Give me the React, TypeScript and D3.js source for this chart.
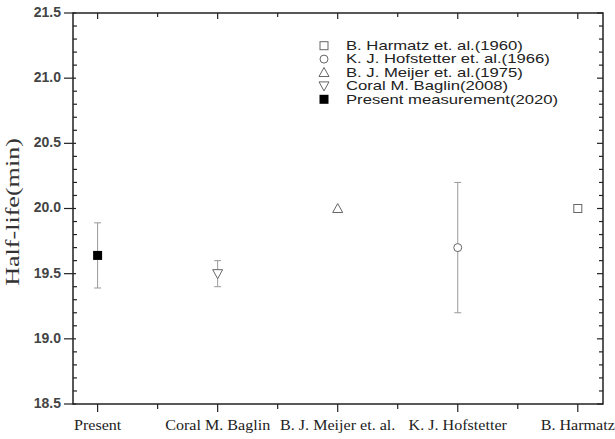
import React from "react";
import * as d3 from "d3";

const categories = ["Present", "Coral M. Baglin", "B. J. Meijer et. al.", "K. J. Hofstetter", "B. Harmatz"];
const values = [19.64, 19.5, 20.0, 19.7, 20.0];
const errors = [0.25, 0.1, 0, 0.5, 0];
const symbols = ["squareFilled", "triangleDown", "triangleUp", "circle", "square"];
const legendLabels = [
  "B. Harmatz et. al.(1960)",
  "K. J. Hofstetter et. al.(1966)",
  "B. J. Meijer et. al.(1975)",
  "Coral M. Baglin(2008)",
  "Present measurement(2020)",
];
const legendSymbols = ["square", "circle", "triangleUp", "triangleDown", "squareFilled"];
const yTickLabels = ["18.5", "19.0", "19.5", "20.0", "20.5", "21.0", "21.5"];

const W = 615;
const H = 439;
const left = 73, right = 603, top = 13, bottom = 404;

function Marker({ type, x, y }: { type: string; x: number; y: number }) {
  const stroke = "#666";
  const sw = 1;
  if (type === "squareFilled")
    return <rect x={x - 4.5} y={y - 4.5} width={9} height={9} fill="#000" />;
  if (type === "square")
    return <rect x={x - 4} y={y - 4} width={8} height={8} fill="#fff" stroke={stroke} strokeWidth={sw} />;
  if (type === "circle")
    return <circle cx={x} cy={y} r={4} fill="#fff" stroke={stroke} strokeWidth={sw} />;
  if (type === "triangleUp")
    return (
      <path d={`M${x},${y - 5}L${x + 5},${y + 4}L${x - 5},${y + 4}Z`} fill="#fff" stroke={stroke} strokeWidth={sw} />
    );
  return <path d={`M${x},${y + 5}L${x + 5},${y - 4}L${x - 5},${y - 4}Z`} fill="#fff" stroke={stroke} strokeWidth={sw} />;
}

export default function App() {
  const x = d3.scaleLinear().domain([-0.205, 4.21]).range([left, right]);
  const y = d3.scaleLinear().domain([18.5, 21.5]).range([bottom, top]);
  const majorY = yTickLabels.map(Number);
  const minorY = d3.range(185, 216).map((v) => v / 10).filter((v) => !majorY.some((m) => Math.abs(m - v) < 1e-6));
  const majorX = categories.map((_, i) => i);
  const minorX = d3.range(0, 5).map((i) => i - 0.5).filter((v) => v > -0.2).concat([4.5].filter((v) => x(v) < right));
  const axisColor = "#222";
  const labelScale = 1.15;
  const legendScale = 1.39;
  const legendY = d3.scaleLinear().domain([0, 4]).range([45.7, 99.3]);

  return (
    <svg width={W} height={H} style={{ position: "absolute", left: 0, top: 0, background: "#fff" }}>
      <rect x={0} y={0} width={W} height={H} fill="#fff" />
      {/* left axis ticks */}
      {majorY.map((v) => (
        <line key={"ly" + v} x1={left - 9} x2={left + 3} y1={y(v)} y2={y(v)} stroke={axisColor} strokeWidth={1.2} />
      ))}
      {minorY.map((v) => (
        <line key={"lmy" + v} x1={left} x2={left + 4} y1={y(v)} y2={y(v)} stroke={axisColor} strokeWidth={1.2} />
      ))}
      {/* right axis ticks */}
      {majorY.map((v) => (
        <line key={"ry" + v} x1={right - 6} x2={right} y1={y(v)} y2={y(v)} stroke={axisColor} strokeWidth={1.2} />
      ))}
      {minorY.map((v) => (
        <line key={"rmy" + v} x1={right - 4} x2={right} y1={y(v)} y2={y(v)} stroke={axisColor} strokeWidth={1.2} />
      ))}
      {/* bottom ticks */}
      {majorX.map((v) => (
        <line key={"bx" + v} x1={x(v)} x2={x(v)} y1={bottom} y2={bottom + 8} stroke={axisColor} strokeWidth={1.2} />
      ))}
      {minorX.map((v) => (
        <line key={"bmx" + v} x1={x(v)} x2={x(v)} y1={bottom} y2={bottom + 5} stroke={axisColor} strokeWidth={1.2} />
      ))}
      {/* top ticks */}
      {majorX.map((v) => (
        <line key={"tx" + v} x1={x(v)} x2={x(v)} y1={top} y2={top + 6} stroke={axisColor} strokeWidth={1.2} />
      ))}
      {minorX.map((v) => (
        <line key={"tmx" + v} x1={x(v)} x2={x(v)} y1={top} y2={top + 4} stroke={axisColor} strokeWidth={1.2} />
      ))}
      {/* frame */}
      <rect x={left} y={top} width={right - left} height={bottom - top} fill="none" stroke={axisColor} strokeWidth={1.5} />

      {/* y tick labels */}
      {yTickLabels.map((t) => (
        <text
          key={"yl" + t}
          x={left - 12}
          y={y(+t) - 1}
          dy="0.35em"
          textAnchor="end"
          fontFamily="'Liberation Sans', Arial, sans-serif"
          fontSize={14}
          fontWeight="bold"
          fill="#444"
        >
          {t}
        </text>
      ))}
      {/* x tick labels */}
      {categories.map((c, i) => (
        <text
          key={"xl" + c}
          transform={`translate(${x(i)},430) scale(${labelScale},1)`}
          textAnchor="middle"
          fontFamily="'Liberation Serif', 'Times New Roman', serif"
          fontSize={14}
          fill="#222"
        >
          {c}
        </text>
      ))}
      {/* y title */}
      <text
        transform={`translate(19,212) rotate(-90) scale(1.45,1)`}
        textAnchor="middle"
        fontFamily="'Liberation Serif', 'Times New Roman', serif"
        fontSize={18}
        fill="#333"
      >
        Half-life(min)
      </text>

      {/* error bars */}
      {values.map((v, i) =>
        errors[i] > 0 ? (
          <g key={"e" + i} stroke="#999" strokeWidth={1}>
            <line x1={x(i)} x2={x(i)} y1={y(v - errors[i])} y2={y(v + errors[i])} />
            <line x1={x(i) - 3.5} x2={x(i) + 3.5} y1={y(v - errors[i])} y2={y(v - errors[i])} />
            <line x1={x(i) - 3.5} x2={x(i) + 3.5} y1={y(v + errors[i])} y2={y(v + errors[i])} />
          </g>
        ) : null
      )}
      {/* markers */}
      {values.map((v, i) => (
        <Marker key={"m" + i} type={symbols[i]} x={x(i)} y={y(v)} />
      ))}

      {/* legend */}
      {legendLabels.map((l, i) => (
        <g key={"lg" + i}>
          <Marker type={legendSymbols[i]} x={324} y={legendY(i)} />
          <text
            transform={`translate(346,${legendY(i)}) scale(${legendScale},1)`}
            dy="0.35em"
            fontFamily="'Liberation Sans', Arial, sans-serif"
            fontSize={12}
            fill="#222"
          >
            {l}
          </text>
        </g>
      ))}
    </svg>
  );
}
